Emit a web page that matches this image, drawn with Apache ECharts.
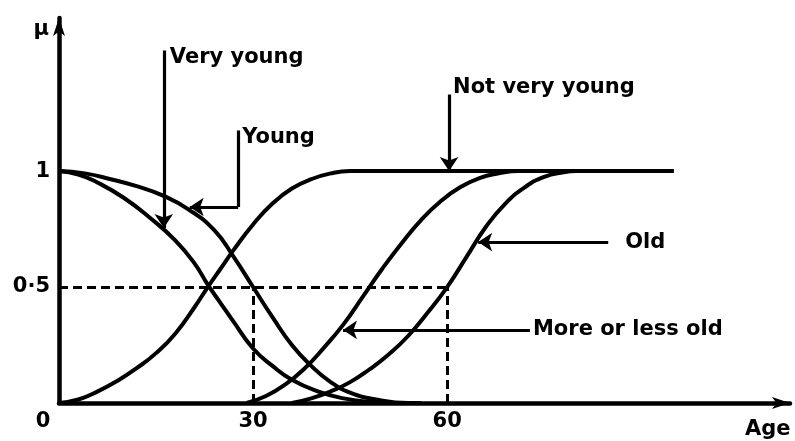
<!DOCTYPE html>
<html>
<head>
<meta charset="utf-8">
<script src="https://cdn.jsdelivr.net/npm/echarts@6/dist/echarts.min.js"></script>
<style>
html,body{margin:0;padding:0;background:#fff}
#chart{width:795px;height:441px}
</style>
</head>
<body>
<div id="chart"></div>
<script>
// Membership curves: [age, membership]
const young = [[0,1],[4,0.99],[8,0.965],[12,0.935],[16,0.895],[20,0.835],[24,0.745],[27,0.63],[30,0.5],
  [33,0.37],[36,0.25],[39,0.16],[42,0.09],[45,0.045],[49,0.015],[54,0],[56,0]];
const veryYoung = [[0,1],[3,0.985],[6,0.95],[10,0.885],[14,0.8],[18,0.7],[21,0.6],[23,0.51],[25,0.43],
  [27,0.35],[30,0.235],[33,0.16],[36,0.1],[40,0.05],[44,0.02],[48,0.005],[52,0]];
const notVeryYoung = [[0,0],[3,0.015],[6,0.05],[9,0.095],[12,0.15],[15,0.215],[18,0.3],[21,0.415],[23,0.5],
  [25,0.58],[27,0.66],[30,0.77],[33,0.86],[36,0.925],[39,0.965],[42,0.99],[45,1],[95,1]];
const moreOrLessOld = [[29,0],[32,0.03],[35,0.08],[38,0.15],[41,0.24],[44,0.34],[47,0.46],[50,0.58],
  [53,0.69],[56,0.79],[59,0.87],[62,0.93],[65,0.97],[68,0.99],[71,1],[95,1]];
const old = [[36,0],[39,0.02],[42,0.05],[45,0.09],[48,0.145],[51,0.21],[54,0.29],[57,0.39],[60,0.5],
  [63,0.63],[66,0.76],[69,0.86],[72,0.93],[75,0.975],[78,0.995],[80,1],[95,1]];

// Axis ticks
const xTicks = [0, 30, 60];
const yTickLabels = {0.5: '0·5', 1: '1'};

// Dashed reference guides at membership 0.5
const guides = [
  [[0,0.5],[60,0.5]],
  [[30,0],[30,0.5]],
  [[60,0],[60,0.5]]
];

// Annotation callouts: text anchor and leader segments (arrow at the last point)
const callouts = [
  {text:'Very young',      anchor:[16.2,1.49],  dist:6,  plain:[],                          arrow:[[16.2,1.52],[16.2,0.755]]},
  {text:'Young',           anchor:[27.7,1.145], dist:4,  plain:[[27.7,1.175],[27.7,0.845]], arrow:[[27.7,0.845],[20.2,0.845]]},
  {text:'Not very young',  anchor:[60.3,1.36],  dist:4,  plain:[],                          arrow:[[60.3,1.33],[60.3,1.0]]},
  {text:'Old',             anchor:[84.9,0.69],  dist:17, plain:[],                          arrow:[[84.9,0.694],[64.8,0.694]]},
  {text:'More or less old',anchor:[72.8,0.315], dist:3,  plain:[],                          arrow:[[72.8,0.315],[43.9,0.315]]}
];

const FONT = 'DejaVu Sans';
const FS = 21;
const chart = echarts.init(document.getElementById('chart'), null, {renderer:'canvas'});

function curve(name, pts) {
  return {
    name, type:'line', data: pts, smooth: 0.5,
    showSymbol:false, symbol:'none', clip:false,
    lineStyle:{color:'#000', width:4}, z:3
  };
}

const series = [
  curve('Young', young),
  curve('Very young', veryYoung),
  curve('Not very young', notVeryYoung),
  curve('More or less old', moreOrLessOld),
  curve('Old', old),
  {
    type:'lines', coordinateSystem:'cartesian2d',
    data: guides.map(g => ({coords:g})),
    lineStyle:{color:'#000', width:3, type:[9,5], opacity:1},
    symbol:'none', z:2
  },
  {
    type:'lines', coordinateSystem:'cartesian2d',
    data: callouts.filter(c => c.plain.length).map(c => ({coords:c.plain})),
    lineStyle:{color:'#000', width:3.2, opacity:1},
    symbol:'none', z:4
  },
  {
    type:'lines', coordinateSystem:'cartesian2d',
    data: callouts.map(c => ({coords:c.arrow})),
    lineStyle:{color:'#000', width:3.2, opacity:1},
    symbol:['none','arrow'], symbolSize:[9,14], z:4
  },
  {
    type:'scatter', symbolSize:0, clip:false,
    itemStyle:{color:'#000', opacity:1},
    data: callouts.map(c => ({value:c.anchor, name:c.text, label:{distance:c.dist}})),
    label:{show:true, position:'right', formatter:p => p.name, opacity:1,
      color:'#000', fontFamily:FONT, fontWeight:'bold', fontSize:FS},
    z:5
  }
];

chart.setOption({
  animation:false,
  backgroundColor:'#fff',
  grid:{left:59, right:5, top:18, bottom:38, containLabel:false, outerBoundsMode:'none'},
  xAxis:{
    type:'value', min:0, max:113, interval:30,
    name:'Age', nameLocation:'end', nameGap:-45,
    nameTextStyle:{color:'#000', fontFamily:FONT, fontWeight:'bold', fontSize:FS,
      align:'left', verticalAlign:'top', padding:[16,0,0,0]},
    axisLine:{lineStyle:{color:'#000', width:4.5}, symbol:['none','arrow'], symbolSize:[9,18]},
    axisTick:{show:false},
    splitLine:{show:false},
    axisLabel:{
      color:'#000', fontFamily:FONT, fontWeight:'bold', fontSize:FS, margin:8,
      formatter: v => v === 0 ? '{z|0}' : (xTicks.includes(v) ? String(v) : ''),
      rich:{z:{fontFamily:FONT, fontWeight:'bold', fontSize:FS, color:'#000', padding:[0,32,0,0]}}
    }
  },
  yAxis:{
    type:'value', min:0, max:1.66, interval:0.5,
    name:'μ', nameLocation:'end', nameGap:-12,
    nameTextStyle:{color:'#000', fontFamily:FONT, fontWeight:'bold', fontSize:FS,
      align:'right', verticalAlign:'middle', padding:[0,10,0,0]},
    axisLine:{lineStyle:{color:'#000', width:4.5}, symbol:['none','arrow'], symbolSize:[9,18]},
    axisTick:{show:false},
    splitLine:{show:false},
    axisLabel:{
      color:'#000', fontFamily:FONT, fontWeight:'bold', fontSize:FS, margin:9,
      formatter: v => yTickLabels[v] || ''
    }
  },
  series
});
</script>
</body>
</html>
